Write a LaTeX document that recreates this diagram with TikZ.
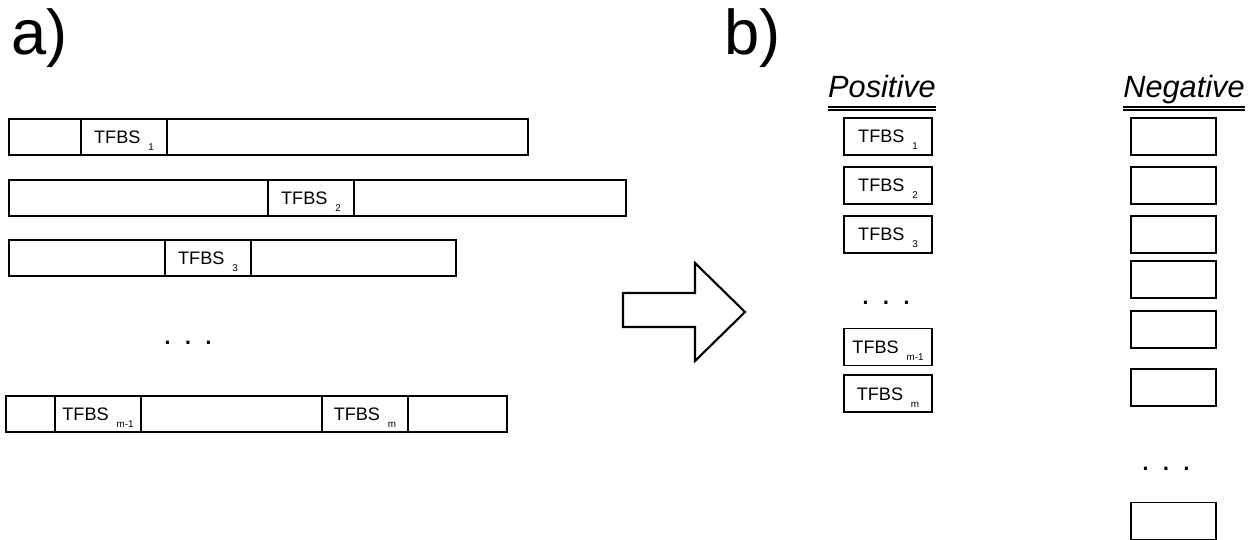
\documentclass[tikz,border=0pt]{standalone}
\usepackage{fontspec}
\setmainfont{Liberation Sans}
\usetikzlibrary{positioning}
\newcommand{\tfbs}[1]{TFBS\hspace{4.5pt}\raisebox{-4pt}[0pt][0pt]{\fontsize{5.6}{6}\selectfont #1}}

\begin{document}
\begin{tikzpicture}
[x=0.02cm,y=-0.02cm,node distance=0.2cm,
seqbox/.style={shape=rectangle,draw=black,line width=1.1pt,minimum height=0.72cm,inner sep=0pt,anchor=west},
sitebox/.style={seqbox,minimum width=1.72cm,font=\fontsize{10.3}{12}\selectfont},
posbox/.style={shape=rectangle,draw=black,line width=1.1pt,minimum width=1.76cm,minimum height=0.74cm,inner sep=0pt,font=\fontsize{10.3}{12}\selectfont},
negbox/.style={posbox,minimum width=1.7cm},
panel/.style={font=\fontsize{36}{40}\selectfont,anchor=base west,inner sep=0pt},
colhead/.style={font=\fontsize{17.5}{20}\selectfont\itshape,anchor=base,inner sep=0pt},
dots/.style={font=\fontsize{18}{20}\selectfont,anchor=base,inner sep=0pt},
uline/.style={line width=0.8pt}]

\useasboundingbox (0,0) rectangle (1255,540);

\node (pa) [panel] at (11,55) {a)};
\node (pb) [panel] at (724,55) {b)};

\node (s1) [seqbox,minimum width=10.38cm] at (8,137) {};
\node (t1) [sitebox] at (80,137) {\tfbs{1}};
\node (s2) [seqbox,minimum width=12.34cm] at (8,198) {};
\node (t2) [sitebox] at (267,198) {\tfbs{2}};
\node (s3) [seqbox,minimum width=8.94cm] at (8,258) {};
\node (t3) [sitebox] at (164,258) {\tfbs{3}};
\node (sdots) [dots] at (188,344.5) {. . .};
\node (s4) [seqbox,minimum width=10.02cm] at (5,414) {};
\node (t4) [sitebox] at (54,414) {\tfbs{m-1}};
\node (t5) [sitebox] at (321,414) {\tfbs{m}};

\draw[line width=1.2pt,line join=miter] (623,293) -- (695,293) -- (695,263) -- (745,312)
-- (695,361) -- (695,327) -- (623,327) -- cycle;

\node (hpos) [colhead] at (882,98) {Positive};
\node (hneg) [colhead] at (1184,98) {Negative};
\draw[uline] ([yshift=-0.18cm]hpos.base west) -- ([yshift=-0.18cm]hpos.base east);
\draw[uline] ([yshift=-0.24cm]hpos.base west) -- ([yshift=-0.24cm]hpos.base east);
\draw[uline] ([yshift=-0.18cm]hneg.base west) -- ([yshift=-0.18cm]hneg.base east);
\draw[uline] ([yshift=-0.24cm]hneg.base west) -- ([yshift=-0.24cm]hneg.base east);

\node (p1) [posbox] at (888,136.5) {\tfbs{1}};
\node (p2) [posbox,below=of p1] {\tfbs{2}};
\node (p3) [posbox,below=of p2] {\tfbs{3}};
\node (pdots) [dots] at (886,304.5) {. . .};
\node (p4) [posbox] at (888,347) {\tfbs{m-1}};
\node (p5) [posbox,below=0.16cm of p4] {\tfbs{m}};

\node (n1) [negbox] at (1173.5,136.5) {};
\node (n2) [negbox,below=of n1] {};
\node (n3) [negbox,below=of n2] {};
\node (n4) [negbox,below=0.12cm of n3] {};
\node (n5) [negbox,below=0.22cm of n4] {};
\node (n6) [negbox,below=0.38cm of n5] {};
\node (ndots) [dots] at (1166,470.5) {. . .};
\node (n7) [negbox] at (1173.5,521) {};

\end{tikzpicture}
\end{document}
